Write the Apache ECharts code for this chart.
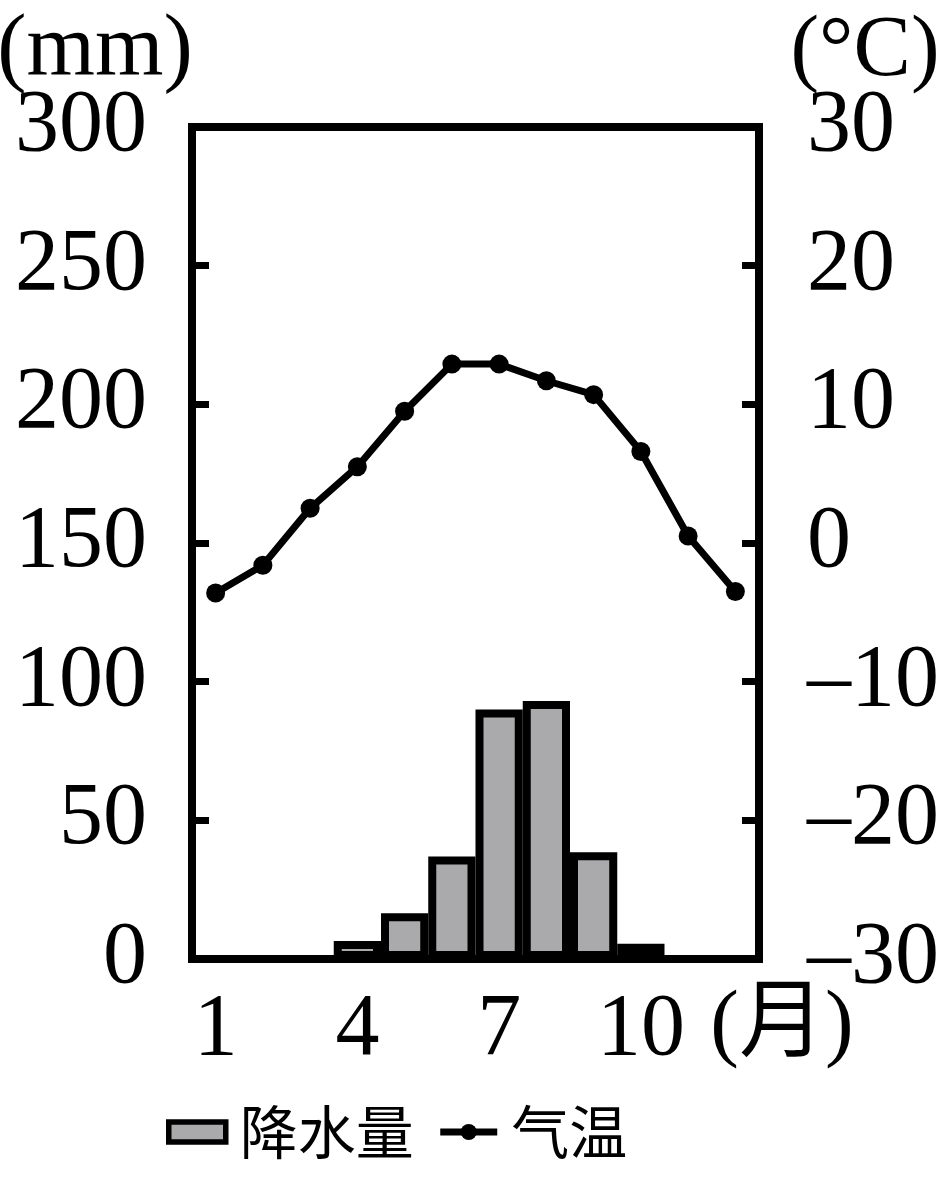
<!DOCTYPE html>
<html>
<head>
<meta charset="utf-8">
<script src="https://cdn.jsdelivr.net/npm/echarts@6/dist/echarts.min.js"></script>
<style>
html,body{margin:0;padding:0;background:#fff;}
#chart{width:942px;height:1186px;}
</style>
</head>
<body>
<div id="chart"></div>
<script>
const months = ['1','2','3','4','5','6','7','8','9','10','11','12'];
const precipitation = [0, 0, 0, 6.5, 16.5, 37, 90, 93, 38.5, 5.5, 0, 0];
const temperature = [-3.6, -1.6, 2.5, 5.5, 9.5, 12.9, 12.9, 11.7, 10.7, 6.6, 0.5, -3.5];
const shownMonthLabels = ['1','4','7','10'];
const leftUnit = '(mm)';
const rightUnit = '(°C)';
const xUnit = '(月)';
const seriesNames = ['降水量', '气温'];

const serif = '"Liberation Serif","Times New Roman","Noto Sans CJK SC",serif';
const cjk = '"Noto Sans CJK SC","Liberation Serif",sans-serif';
const chart = echarts.init(document.getElementById('chart'), null, {renderer: 'canvas'});

const option = {
  backgroundColor: '#fff',
  animation: false,
  grid: {left: 192, right: 183, top: 127, bottom: 227, show: true, borderColor: '#000', borderWidth: 8, backgroundColor: 'transparent'},
  legend: {
    left: 166, top: 1103, padding: 0, itemGap: 23,
    itemWidth: 57, itemHeight: 20,
    textStyle: {fontFamily: cjk, fontSize: 58, color: '#000', padding: [0, 0, 0, 9]},
    data: [
      {name: seriesNames[0], icon: 'rect', itemStyle: {color: '#aaaaac', borderColor: '#000', borderWidth: 5.5}},
      {name: seriesNames[1], lineStyle: {width: 7, color: '#000'}, itemStyle: {color: '#000'}}
    ]
  },
  xAxis: {
    type: 'category', data: months, boundaryGap: true,
    axisLine: {show: true, lineStyle: {color: '#000', width: 8}},
    axisTick: {show: false},
    axisLabel: {
      interval: 0, margin: 28, color: '#000', fontFamily: serif, fontSize: 88,
      formatter: v => shownMonthLabels.includes(v) ? v : ''
    },
    splitLine: {show: false}
  },
  yAxis: [
    {
      type: 'value', min: 0, max: 300, interval: 50, position: 'left',
      axisLine: {show: true, lineStyle: {color: '#000', width: 8}},
      axisTick: {show: true, inside: true, length: 17, lineStyle: {color: '#000', width: 7}},
      axisLabel: {margin: 45, color: '#000', fontFamily: serif, fontSize: 88},
      splitLine: {show: false}
    },
    {
      type: 'value', min: -30, max: 30, interval: 10, position: 'right',
      axisLine: {show: true, lineStyle: {color: '#000', width: 8}},
      axisTick: {show: true, inside: true, length: 17, lineStyle: {color: '#000', width: 7}},
      axisLabel: {margin: 48, color: '#000', fontFamily: serif, fontSize: 88,
        formatter: v => v < 0 ? '–' + Math.abs(v) : String(v)},
      splitLine: {show: false}
    }
  ],
  graphic: [
    {type: 'text', style: {x: 95, y: 52, text: leftUnit, textAlign: 'center', textVerticalAlign: 'middle', font: '88px ' + serif, fill: '#000'}},
    {type: 'text', style: {x: 865, y: 52, text: rightUnit, textAlign: 'center', textVerticalAlign: 'middle', font: '86px ' + serif, fill: '#000'}},
    {type: 'text', style: {x: 782, y: 1027, text: xUnit, textAlign: 'center', textVerticalAlign: 'middle', font: '86px ' + serif, fill: '#000'}}
  ],
  series: [
    {
      name: seriesNames[0], type: 'bar', data: precipitation, yAxisIndex: 0,
      barCategoryGap: '0%', barGap: '0%',
      itemStyle: {color: '#aaaaac', borderColor: '#000', borderWidth: 8},
      z: 2
    },
    {
      name: seriesNames[1], type: 'line', data: temperature, yAxisIndex: 1,
      symbol: 'circle', symbolSize: 19,
      lineStyle: {color: '#000', width: 7},
      itemStyle: {color: '#000'},
      z: 5
    }
  ]
};
chart.setOption(option);
</script>
</body>
</html>
